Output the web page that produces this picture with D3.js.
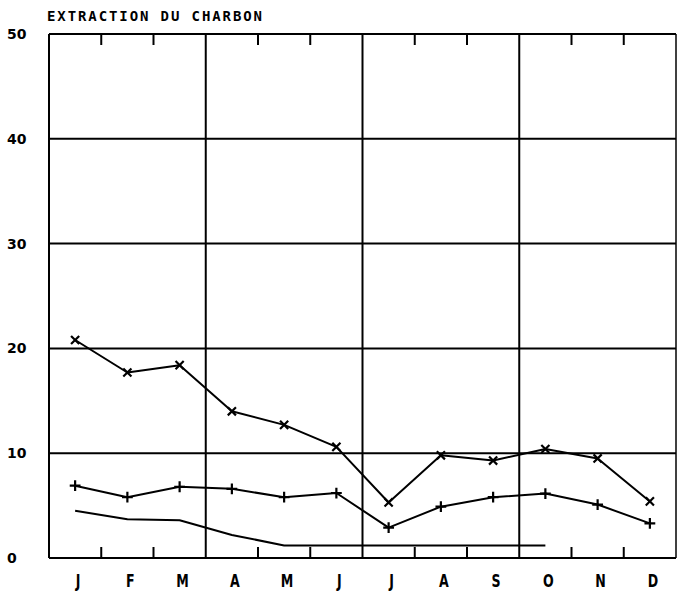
<!DOCTYPE html>
<html>
<head>
<meta charset="utf-8">
<script src="https://cdn.jsdelivr.net/npm/d3@7"></script>
<style>
  body { margin: 0; background: #fff; }
  svg { display: block; }
  .tick-label { font-family: "DejaVu Sans", sans-serif; font-weight: bold; font-size: 14px; }
  .month { font-family: "DejaVu Sans", sans-serif; font-weight: bold; font-size: 18px; }
  .title { font-family: "DejaVu Sans Mono", monospace; font-weight: bold; font-size: 14px; letter-spacing: 1.9px; }
</style>
</head>
<body>
<script>
// data
var months = ["J", "F", "M", "A", "M", "J", "J", "A", "S", "O", "N", "D"];
var yTicks = [0, 10, 20, 30, 40, 50];
var serieX = [20.8, 17.7, 18.4, 14.0, 12.7, 10.6, 5.3, 9.8, 9.3, 10.4, 9.5, 5.4];
var seriePlus = [6.9, 5.8, 6.8, 6.6, 5.8, 6.2, 2.9, 4.9, 5.8, 6.15, 5.1, 3.3];
var serieLine = [4.5, 3.7, 3.6, 2.2, 1.2, 1.2, 1.2, 1.2, 1.2, 1.2];

var width = 677,
    height = 591,
    plotLeft = 49, plotRight = 676, plotTop = 34, plotBottom = 558;

var svg = d3.select("body").append("svg")
    .attr("width", width)
    .attr("height", height);

var x = d3.scaleBand()
    .domain(d3.range(months.length))
    .range([plotLeft, plotRight])
    .paddingInner(0).paddingOuter(0);

var y = d3.scaleLinear()
    .domain([0, 50])
    .range([plotBottom, plotTop]);

var cx = function(i) { return x(i) + x.bandwidth() / 2; };

//GRID
svg.selectAll(".hgrid")
    .data(yTicks)
    .enter().append("line")
    .attr("class", "hgrid")
    .attr("x1", plotLeft).attr("x2", plotRight)
    .attr("y1", function(d) { return y(d); })
    .attr("y2", function(d) { return y(d); })
    .attr("stroke", "#000")
    .attr("stroke-width", 2);

// borders
svg.append("line")
    .attr("x1", plotLeft).attr("x2", plotLeft).attr("y1", plotTop).attr("y2", plotBottom)
    .attr("stroke", "#000").attr("stroke-width", 2);
svg.append("line")
    .attr("x1", plotRight).attr("x2", plotRight).attr("y1", plotTop).attr("y2", plotBottom)
    .attr("stroke", "#000").attr("stroke-width", 1.5);

// boundaries between months: full lines at quarters, small ticks otherwise
d3.range(1, months.length).forEach(function(i) {
    var bx = x(i);
    if (i % 3 === 0) {
        svg.append("line")
            .attr("x1", bx).attr("x2", bx).attr("y1", plotTop).attr("y2", plotBottom)
            .attr("stroke", "#000").attr("stroke-width", 2);
    } else {
        svg.append("line")
            .attr("x1", bx).attr("x2", bx).attr("y1", plotTop).attr("y2", plotTop + 11)
            .attr("stroke", "#000").attr("stroke-width", 2);
        svg.append("line")
            .attr("x1", bx).attr("x2", bx).attr("y1", plotBottom - 11).attr("y2", plotBottom)
            .attr("stroke", "#000").attr("stroke-width", 2);
    }
});

// y labels
svg.selectAll(".tick-label")
    .data(yTicks)
    .enter().append("text")
    .attr("class", "tick-label")
    .attr("x", 7)
    .attr("y", function(d) { return y(d); })
    .attr("dy", "0.36em")
    .text(function(d) { return d; });

// month labels
svg.selectAll(".month")
    .data(months)
    .enter().append("text")
    .attr("class", "month")
    .attr("text-anchor", "middle")
    .attr("transform", function(d, i) {
        return "translate(" + (cx(i) + 3) + ",587) scale(0.7,1)";
    })
    .text(function(d) { return d; });

// title
svg.append("text")
    .attr("class", "title")
    .attr("x", 47)
    .attr("y", 21)
    .text("EXTRACTION DU CHARBON");

//SERIES
var line = d3.line()
    .x(function(d, i) { return cx(i); })
    .y(function(d) { return y(d); });

[serieX, seriePlus, serieLine].forEach(function(s) {
    svg.append("path")
        .attr("d", line(s))
        .attr("fill", "none")
        .attr("stroke", "#000")
        .attr("stroke-width", 2)
        .attr("stroke-linejoin", "round");
});

svg.selectAll(".mx")
    .data(serieX)
    .enter().append("path")
    .attr("class", "mx")
    .attr("d", d3.symbol().type(d3.symbolX).size(45))
    .attr("transform", function(d, i) { return "translate(" + cx(i) + "," + y(d) + ")"; })
    .attr("fill", "none")
    .attr("stroke", "#000")
    .attr("stroke-width", 2.2);

svg.selectAll(".mp")
    .data(seriePlus)
    .enter().append("path")
    .attr("class", "mp")
    .attr("d", d3.symbol().type(d3.symbolPlus).size(40))
    .attr("transform", function(d, i) { return "translate(" + cx(i) + "," + y(d) + ")"; })
    .attr("fill", "none")
    .attr("stroke", "#000")
    .attr("stroke-width", 2.2);
</script>
</body>
</html>
